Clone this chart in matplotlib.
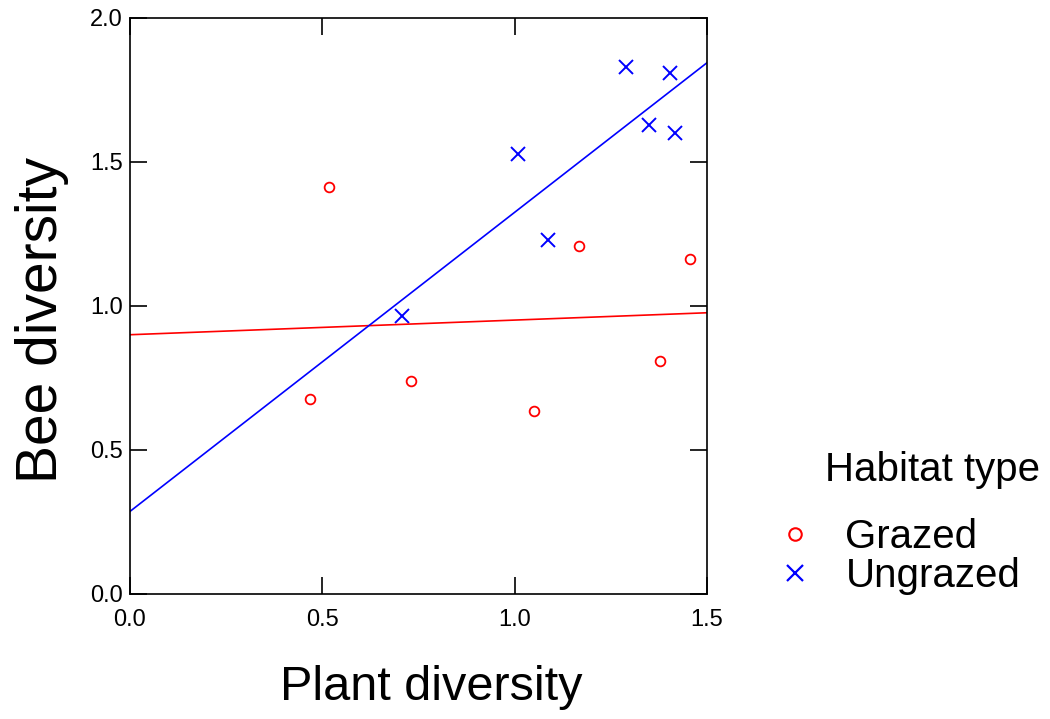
import numpy as np
import matplotlib
matplotlib.use("Agg")
import matplotlib.pyplot as plt
from matplotlib.lines import Line2D

plt.rcParams['font.family'] = ['Liberation Sans', 'DejaVu Sans']

# Data
grazed_x = [0.468, 0.517, 0.730, 1.050, 1.167, 1.378, 1.456]
grazed_y = [0.677, 1.412, 0.739, 0.635, 1.207, 0.808, 1.162]
ungrazed_x = [0.707, 1.009, 1.087, 1.289, 1.349, 1.404, 1.417]
ungrazed_y = [0.964, 1.526, 1.228, 1.828, 1.627, 1.807, 1.599]

x_ticks = [0.0, 0.5, 1.0, 1.5]
y_ticks = [0.0, 0.5, 1.0, 1.5, 2.0]
x_ticklabels = ["0.0", "0.5", "1.0", "1.5"]
y_ticklabels = ["0.0", "0.5", "1.0", "1.5", "2.0"]
group_labels = ["Grazed", "Ungrazed"]

RED = "#FF0000"
BLUE = "#0000FF"

fig = plt.figure(figsize=(10.5, 7.19), dpi=100)
W, H = 1050, 719
ax = fig.add_axes([130 / W, 1 - 594 / H, 577 / W, (594 - 17.5) / H])

ax.plot(grazed_x, grazed_y, linestyle='none', marker='o', markersize=7,
        markerfacecolor='none', markeredgecolor=RED, markeredgewidth=1.3)
ax.plot(ungrazed_x, ungrazed_y, linestyle='none', marker='x', markersize=9.5,
        markeredgecolor=BLUE, markeredgewidth=1.4)

xl = np.array([0.0, 1.5])
for xs, ys, c in [(grazed_x, grazed_y, RED), (ungrazed_x, ungrazed_y, BLUE)]:
    slope, intercept = np.polyfit(xs, ys, 1)
    ax.plot(xl, intercept + slope * xl, color=c, linewidth=1.2, clip_on=True)

ax.set_xlim(0, 1.5)
ax.set_ylim(0, 2.0)
ax.set_xticks(x_ticks)
ax.set_xticklabels(x_ticklabels)
ax.set_yticks(y_ticks)
ax.set_yticklabels(y_ticklabels)
ax.tick_params(axis='both', direction='in', length=12, width=1.2,
               top=True, right=True, labelsize=17, colors='black')
ax.tick_params(axis='x', pad=11)
ax.tick_params(axis='y', pad=5)
for s in ax.spines.values():
    s.set_linewidth(1.2)

fig.text(42 / W, 1 - 320 / H, "Bee diversity", rotation=90, ha='center',
         va='center', fontsize=41)
fig.text(431 / W, 1 - 688 / H, "Plant diversity", ha='center',
         va='center', fontsize=35)

fig.text(825 / W, 1 - 470 / H, "Habitat type", ha='left', va='center',
         fontsize=29)

handles = [
    Line2D([], [], linestyle='none', marker='o', markersize=9,
           markerfacecolor='none', markeredgecolor=RED, markeredgewidth=1.5),
    Line2D([], [], linestyle='none', marker='x', markersize=11.5,
           markeredgecolor=BLUE, markeredgewidth=1.6),
]
fig.legend(handles, group_labels, loc='upper left',
           bbox_to_anchor=(775 / W, 1 - 518 / H), frameon=False,
           fontsize=29, borderpad=0, borderaxespad=0, labelspacing=0.02,
           handlelength=1.0, handletextpad=0.75)

fig.savefig("out.png", dpi=100)
